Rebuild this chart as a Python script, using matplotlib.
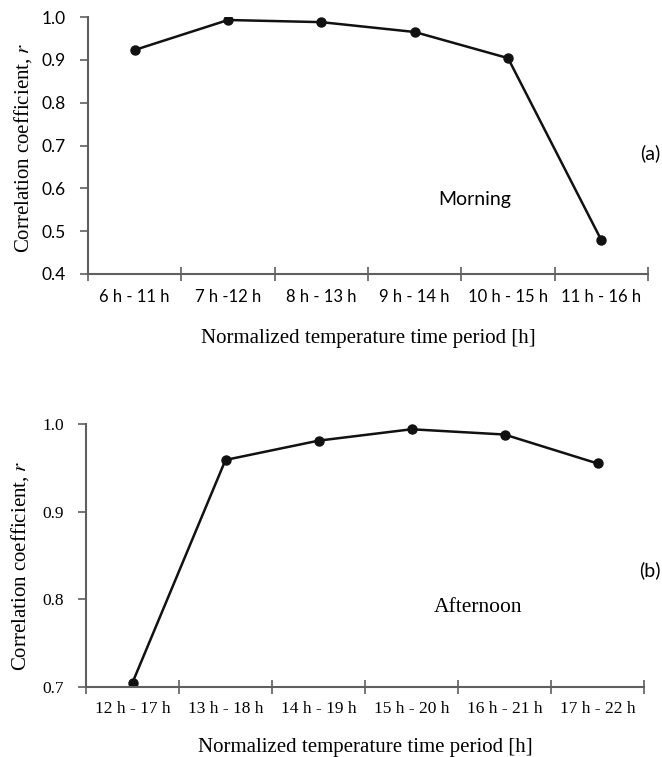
import matplotlib
matplotlib.use("Agg")
import matplotlib.pyplot as plt
import numpy as np

morning_periods = ["6 h - 11 h", "7 h -12 h", "8 h - 13 h", "9 h - 14 h", "10 h - 15 h", "11 h - 16 h"]
morning_r = [0.923, 0.993, 0.988, 0.965, 0.904, 0.479]

afternoon_periods = ["12 h - 17 h", "13 h - 18 h", "14 h - 19 h", "15 h - 20 h", "16 h - 21 h", "17 h - 22 h"]
afternoon_r = [0.705, 0.959, 0.981, 0.994, 0.988, 0.955]

W, H = 662, 757
sans = "Lato"
serif = "Liberation Serif"
axis_col = "#5f5f5f"
plt.rcParams["mathtext.fontset"] = "stix"

fig = plt.figure(figsize=(W / 100, H / 100), dpi=100)


def px_axes(left, right, top, bottom):
    return fig.add_axes([left / W, 1 - bottom / H, (right - left) / W, (bottom - top) / H])


def style(ax, labels, yticks, tick_font, xsize, ysize, xpad):
    n = len(labels)
    for s in ["top", "right"]:
        ax.spines[s].set_visible(False)
    for s in ["left", "bottom"]:
        ax.spines[s].set_color(axis_col)
        ax.spines[s].set_linewidth(1.5)
    ax.set_xlim(0, n)
    ax.set_xticks(np.arange(n + 1))
    ax.set_xticklabels([])
    ax.set_xticks(np.arange(n) + 0.5, minor=True)
    ax.set_xticklabels(labels, minor=True, fontfamily=tick_font, fontsize=xsize)
    ax.tick_params(axis="x", which="major", direction="inout", length=10, width=1.2, color=axis_col)
    ax.tick_params(axis="x", which="minor", length=0, pad=xpad)
    ax.set_yticks(yticks)
    ax.yaxis.set_major_formatter(matplotlib.ticker.FormatStrFormatter("%.1f"))
    ax.tick_params(axis="y", direction="out", length=6, width=1.2, color=axis_col, pad=10)
    for t in ax.get_yticklabels():
        t.set_fontfamily(tick_font)
        t.set_fontsize(ysize)


# (a) morning
ax1 = px_axes(88, 648, 17, 274)
x = np.arange(len(morning_r)) + 0.5
ax1.plot(x, morning_r, color="#111111", lw=1.8, marker="o", ms=6.5)
ax1.set_ylim(0.4, 1.0)
style(ax1, morning_periods, [0.4, 0.5, 0.6, 0.7, 0.8, 0.9, 1.0], sans, 12, 12.5, 11)
ax1.set_ylabel("Correlation coefficient, $r$", fontfamily=serif, fontsize=15)
ax1.yaxis.set_label_coords(-0.097, 0.49)
ax1.set_xlabel("Normalized temperature time period [h]", fontfamily=serif, fontsize=15, labelpad=17)
fig.text(475 / W, 1 - 200 / H, "Morning", fontfamily=sans, fontsize=14, ha="center", va="center")
fig.text(650 / W, 1 - 153 / H, "(a)", fontfamily=sans, fontsize=14, ha="center", va="center")

# (b) afternoon
ax2 = px_axes(86, 644, 424, 687)
x = np.arange(len(afternoon_r)) + 0.5
ax2.plot(x, afternoon_r, color="#111111", lw=1.8, marker="o", ms=6.5)
ax2.set_ylim(0.7, 1.0)
style(ax2, afternoon_periods, [0.7, 0.8, 0.9, 1.0], serif, 12.5, 12.5, 10)
ax2.set_ylabel("Correlation coefficient, $r$", fontfamily=serif, fontsize=15)
ax2.yaxis.set_label_coords(-0.099, 0.46)
ax2.set_xlabel("Normalized temperature time period [h]", fontfamily=serif, fontsize=15, labelpad=15)
fig.text(478 / W, 1 - 608 / H, "Afternoon", fontfamily=serif, fontsize=15.5, ha="center", va="center")
fig.text(650 / W, 1 - 570 / H, "(b)", fontfamily=sans, fontsize=14, ha="center", va="center")

fig.savefig("out.png", dpi=100)
